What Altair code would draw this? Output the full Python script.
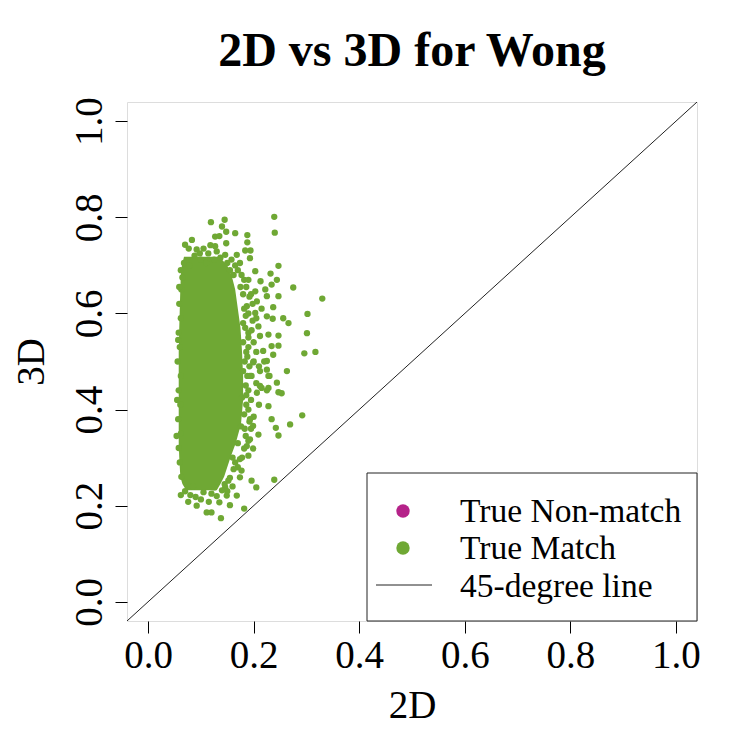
import altair as alt
import pandas as pd

GREEN = "#6FA834"
MAGENTA = "#B52289"
FONT = "Liberation Serif"

# Dense core of the "True Match" cloud (left/right 2D bounds at each 3D level)
core_3d = [0.232, 0.245, 0.26, 0.30, 0.33, 0.37, 0.42, 0.47, 0.52, 0.57, 0.61, 0.65, 0.68, 0.70, 0.718]
core_left = [0.072, 0.065, 0.061, 0.059, 0.058, 0.058, 0.058, 0.058, 0.058, 0.059, 0.060, 0.061, 0.062, 0.064, 0.068]
core_right = [0.130, 0.137, 0.144, 0.156, 0.166, 0.176, 0.180, 0.180, 0.178, 0.175, 0.170, 0.165, 0.158, 0.150, 0.135]

# Individual "True Match" points around the core (2D, 3D)
top_points = [
    (0.068, 0.705), (0.070, 0.743), (0.077, 0.735), (0.083, 0.753), (0.088, 0.720),
    (0.092, 0.733), (0.100, 0.712), (0.105, 0.735), (0.114, 0.725), (0.118, 0.742),
    (0.119, 0.790), (0.127, 0.760), (0.127, 0.740), (0.130, 0.729), (0.135, 0.761),
    (0.137, 0.716), (0.140, 0.781), (0.145, 0.795), (0.146, 0.722), (0.148, 0.746),
    (0.148, 0.770), (0.158, 0.712), (0.165, 0.767), (0.168, 0.722), (0.174, 0.705),
    (0.188, 0.763), (0.188, 0.748), (0.184, 0.731), (0.194, 0.731), (0.193, 0.715),
    (0.239, 0.801), (0.240, 0.768), (0.062, 0.690), (0.078, 0.700), (0.155, 0.690),
    (0.150, 0.705), (0.162, 0.680), (0.110, 0.705), (0.125, 0.712), (0.170, 0.690),
    (0.165, 0.700), (0.182, 0.670), (0.186, 0.655), (0.195, 0.640), (0.098, 0.725),
]
right_points = [
    (0.177, 0.680), (0.190, 0.670), (0.203, 0.688), (0.247, 0.699), (0.232, 0.683),
    (0.213, 0.667), (0.244, 0.670), (0.234, 0.660), (0.222, 0.650), (0.203, 0.646),
    (0.225, 0.636), (0.247, 0.636), (0.206, 0.625), (0.187, 0.615), (0.237, 0.613),
    (0.203, 0.601), (0.225, 0.594), (0.236, 0.589), (0.256, 0.590), (0.266, 0.580),
    (0.209, 0.573), (0.228, 0.556), (0.247, 0.554), (0.212, 0.553), (0.234, 0.532),
    (0.247, 0.533), (0.218, 0.522), (0.237, 0.514), (0.275, 0.654), (0.330, 0.631),
    (0.302, 0.599), (0.301, 0.559), (0.296, 0.517), (0.317, 0.520), (0.263, 0.480),
    (0.200, 0.500), (0.210, 0.490), (0.196, 0.470), (0.205, 0.455), (0.215, 0.445),
    (0.225, 0.440), (0.244, 0.456), (0.247, 0.436), (0.253, 0.434), (0.228, 0.407),
    (0.210, 0.410), (0.195, 0.420), (0.190, 0.400), (0.200, 0.385), (0.292, 0.388),
    (0.234, 0.380), (0.242, 0.362), (0.247, 0.346), (0.269, 0.369), (0.209, 0.348),
    (0.195, 0.360), (0.190, 0.335), (0.199, 0.319), (0.182, 0.319), (0.190, 0.304),
    (0.177, 0.273), (0.174, 0.259), (0.239, 0.254), (0.196, 0.252), (0.205, 0.238),
    (0.230, 0.470), (0.220, 0.500), (0.205, 0.520), (0.190, 0.530), (0.185, 0.345),
    (0.178, 0.300), (0.170, 0.280), (0.190, 0.560), (0.198, 0.585), (0.185, 0.595),
    (0.180, 0.640), (0.175, 0.655), (0.192, 0.635), (0.215, 0.610), (0.185, 0.450),
    (0.180, 0.480), (0.192, 0.375), (0.182, 0.390), (0.178, 0.425), (0.188, 0.510),
    (0.180, 0.540), (0.176, 0.365), (0.170, 0.330), (0.160, 0.300), (0.165, 0.290),
    (0.183, 0.360), (0.186, 0.410), (0.190, 0.440), (0.188, 0.470), (0.192, 0.490),
    (0.186, 0.520), (0.190, 0.550), (0.184, 0.570), (0.182, 0.610), (0.190, 0.600),
    (0.212, 0.449), (0.228, 0.445), (0.212, 0.480), (0.225, 0.483), (0.228, 0.470),
    (0.193, 0.470), (0.199, 0.498), (0.225, 0.501), (0.206, 0.435), (0.193, 0.380),
    (0.199, 0.366), (0.193, 0.338), (0.187, 0.324), (0.174, 0.297), (0.162, 0.276),
    (0.152, 0.252), (0.146, 0.238), (0.149, 0.221), (0.200, 0.540), (0.196, 0.565),
    (0.205, 0.590), (0.198, 0.620), (0.180, 0.580), (0.183, 0.500), (0.186, 0.430),
]
bottom_points = [
    (0.182, 0.194), (0.155, 0.201), (0.168, 0.221), (0.138, 0.174), (0.076, 0.208),
    (0.092, 0.200), (0.062, 0.222), (0.111, 0.186), (0.120, 0.186), (0.135, 0.207),
    (0.160, 0.240), (0.150, 0.230), (0.070, 0.230), (0.080, 0.222), (0.090, 0.218),
    (0.100, 0.213), (0.085, 0.240), (0.115, 0.208), (0.120, 0.225), (0.130, 0.220),
    (0.140, 0.232), (0.145, 0.245), (0.155, 0.258), (0.105, 0.228), (0.125, 0.238),
]
left_points = [
    (0.063, 0.260), (0.060, 0.290), (0.058, 0.320), (0.062, 0.350), (0.054, 0.345),
    (0.057, 0.380), (0.061, 0.410), (0.058, 0.440), (0.062, 0.470), (0.056, 0.500),
    (0.060, 0.530), (0.057, 0.545), (0.058, 0.560), (0.062, 0.590), (0.059, 0.620),
    (0.063, 0.650), (0.065, 0.675), (0.055, 0.420), (0.059, 0.655),
]

title_text = "2D vs 3D for Wong"
legend_labels = ["True Non-match", "True Match", "45-degree line"]
diag = [-0.1, 1.1]

pts = top_points + right_points + bottom_points + left_points
df_pts = pd.DataFrame(pts, columns=["x2d", "y3d"])
df_core = pd.DataFrame({"y3d": core_3d, "lo": core_left, "hi": core_right})
df_diag = pd.DataFrame({"x2d": diag, "y3d": diag})
df_one = pd.DataFrame({"k": [0]})

xs = alt.Scale(domain=[-0.04, 1.04], nice=False, zero=False)
ys = alt.Scale(domain=[-0.04, 1.04], nice=False, zero=False)
ticks = [0, 0.2, 0.4, 0.6, 0.8, 1.0]

xaxis = alt.Axis(values=ticks, format=".1f", title="2D", grid=False, domain=False,
                 tickSize=12, tickColor="black", labelFont=FONT, labelFontSize=39,
                 labelColor="black", labelPadding=3, titleFont=FONT, titleFontSize=39,
                 titleFontWeight="normal", titleColor="black", titlePadding=11)
yaxis = alt.Axis(values=ticks, format=".1f", title="3D", grid=False, domain=False,
                 tickSize=12, tickColor="black", labelFont=FONT, labelFontSize=39,
                 labelColor="black", labelAngle=270, labelAlign="center",
                 labelBaseline="alphabetic", labelPadding=14, titleFont=FONT,
                 titleFontSize=39, titleFontWeight="normal", titleColor="black",
                 titlePadding=19)

core = alt.Chart(df_core).mark_area(orient="horizontal", color=GREEN, opacity=1).encode(
    y=alt.Y("y3d:Q", scale=ys, axis=yaxis),
    x=alt.X("lo:Q", scale=xs, axis=xaxis),
    x2="hi:Q",
)
points = alt.Chart(df_pts).mark_circle(color=GREEN, size=40, opacity=1).encode(
    x=alt.X("x2d:Q", scale=xs),
    y=alt.Y("y3d:Q", scale=ys),
)
line = alt.Chart(df_diag).mark_line(color="#222222", strokeWidth=1, clip=True).encode(
    x=alt.X("x2d:Q", scale=xs),
    y=alt.Y("y3d:Q", scale=ys),
)

base = alt.Chart(df_one)
title = base.mark_text(text=title_text, font=FONT, fontSize=48, fontWeight="bold",
                       align="center", baseline="alphabetic", color="black").encode(
    x=alt.value(285), y=alt.value(-36))
leg_box = base.mark_rect(fill="white", stroke="#222222", strokeWidth=1).encode(
    x=alt.value(240), x2=alt.value(570), y=alt.value(371), y2=alt.value(519))
leg_p1 = base.mark_circle(color=MAGENTA, size=180, opacity=1).encode(
    x=alt.value(276), y=alt.value(409))
leg_p2 = base.mark_circle(color=GREEN, size=180, opacity=1).encode(
    x=alt.value(276), y=alt.value(446))
leg_line = base.mark_rule(color="#222222", strokeWidth=1).encode(
    x=alt.value(249), x2=alt.value(305), y=alt.value(483))
leg_texts = [
    base.mark_text(text=lab, font=FONT, fontSize=33.5, align="left",
                   baseline="alphabetic", color="black").encode(
        x=alt.value(333), y=alt.value(yy))
    for lab, yy in zip(legend_labels, [420, 457, 495])
]

chart = alt.layer(core, points, line, leg_box, leg_p1, leg_p2, leg_line, title, *leg_texts).properties(
    width=570, height=519,
    padding={"left": 119, "top": 94, "right": 45, "bottom": 121},
    autosize=alt.AutoSizeParams(type="none"),
).configure_view(stroke="#222222", strokeWidth=1).configure(background="white")

chart.save("out.html", embed_options={"renderer": "svg", "actions": False})
